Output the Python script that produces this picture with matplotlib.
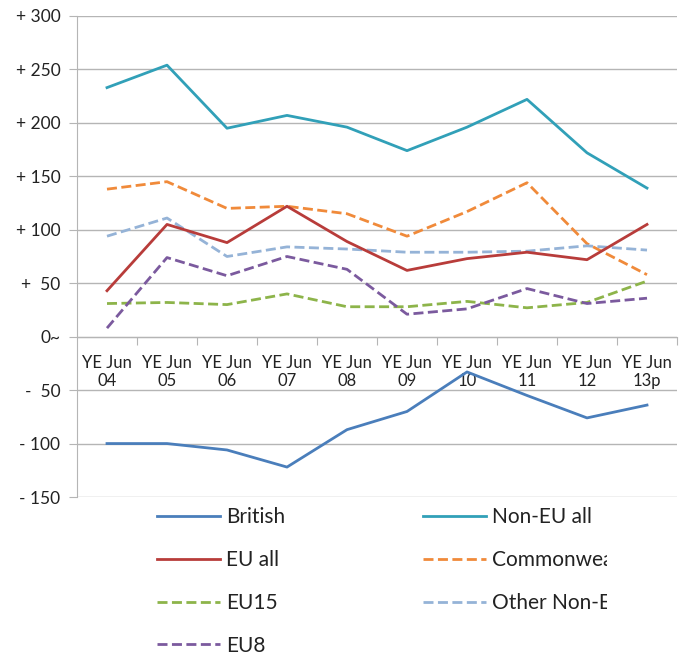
import matplotlib
matplotlib.use('Agg')
import matplotlib.pyplot as plt
from matplotlib.transforms import Bbox, TransformedBbox

plt.rcParams['font.family'] = ['Lato', 'DejaVu Sans']

# categories and series
years = ['04', '05', '06', '07', '08', '09', '10', '11', '12', '13p']
british = [-100, -100, -106, -122, -87, -70, -33, -55, -76, -64]
non_eu_all = [233, 254, 195, 207, 196, 174, 196, 222, 172, 139]
eu_all = [43, 105, 88, 122, 89, 62, 73, 79, 72, 105]
commonwealth = [138, 145, 120, 122, 115, 94, 117, 144, 87, 58]
eu15 = [31, 32, 30, 40, 28, 28, 33, 27, 32, 52]
other_non_eu = [94, 111, 75, 84, 82, 79, 79, 80, 85, 81]
eu8 = [8, 74, 57, 75, 63, 21, 26, 45, 31, 36]

ytick_vals = [300, 250, 200, 150, 100, 50, 0, -50, -100, -150]
ytick_text = ['+ 300', '+ 250', '+ 200', '+ 150', '+ 100', '+  50', '0~',
              '-  50', '- 100', '- 150']
xtick_text = ['YE Jun\n' + y for y in years]

fig = plt.figure(figsize=(6.81, 6.57), dpi=100)
ax = fig.add_axes([77 / 681, 1 - 497 / 657, 600 / 681, 481 / 657])

x = list(range(len(years)))
lw = 2.0
dash = (3.6, 1.6)

l_brit, = ax.plot(x, british, color='#4A7EBB', lw=lw, label='British')
l_noneu, = ax.plot(x, non_eu_all, color='#31A0B8', lw=lw, label='Non-EU all')
l_commw, = ax.plot(x, commonwealth, color='#F08A3A', lw=lw, dashes=dash, label='Commonwealth')
l_other, = ax.plot(x, other_non_eu, color='#95B3D7', lw=lw, dashes=dash, label='Other Non-EU')
l_eu15, = ax.plot(x, eu15, color='#8DB44A', lw=lw, dashes=dash, label='EU15')
l_eu8, = ax.plot(x, eu8, color='#7B5A9E', lw=lw, dashes=dash, label='EU8')
l_eu, = ax.plot(x, eu_all, color='#B83C3A', lw=lw, label='EU all')

ax.set_xlim(-0.5, len(years) - 0.5)
ax.set_ylim(-150, 300)
ax.set_yticks(ytick_vals)
ax.set_yticklabels(ytick_text)
ax.yaxis.grid(True, color='#B5B5B5', lw=1)
ax.set_axisbelow(True)
ax.tick_params(axis='y', length=6, color='#B5B5B5', pad=6,
               labelcolor='#222222', labelsize=12.5)

# category boundaries as ticks, labels at centres
ax.set_xticks([i + 0.5 for i in x[:-1]] + [len(years) - 0.5])
ax.set_xticklabels([])
ax.set_xticks(x, minor=True)
ax.set_xticklabels(xtick_text, minor=True, linespacing=1.25)
ax.tick_params(axis='x', which='major', length=6, color='#B5B5B5', direction='out')
ax.tick_params(axis='x', which='minor', length=0, pad=13, labelsize=12,
               labelcolor='#222222')

ax.spines['bottom'].set_position(('data', 0))
ax.spines['bottom'].set_color('#B5B5B5')
ax.spines['left'].set_color('#B5B5B5')
ax.spines['top'].set_visible(False)
ax.spines['right'].set_visible(False)

handles = [l_brit, l_eu, l_eu15, l_eu8, l_noneu, l_commw, l_other]
leg = fig.legend(handles, [h.get_label() for h in handles], ncol=2,
                 loc='upper left', bbox_to_anchor=(157 / 681, 1 - 507 / 657),
                 borderaxespad=0, borderpad=0,
                 frameon=False, fontsize=15, handlelength=3.0,
                 handletextpad=0.33, columnspacing=6.6, labelspacing=1.1)
# the reference cuts the legend text off at the right
clip = TransformedBbox(Bbox([[0, 0], [607 / 681, 1]]), fig.transFigure)
for t in leg.get_texts():
    t.set_color('#222222')
    t.set_clip_box(clip)
    t.set_clip_on(True)

fig.savefig('out.png', dpi=100)
